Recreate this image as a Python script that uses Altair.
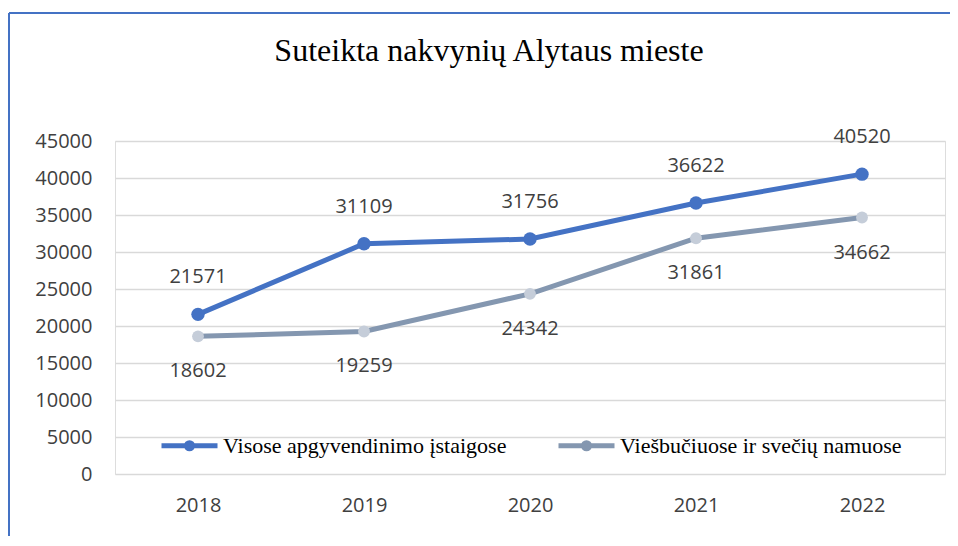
import altair as alt
import pandas as pd

TITLE = "Suteikta nakvynių Alytaus mieste"
years = ["2018", "2019", "2020", "2021", "2022"]
series_names = ["Visose apgyvendinimo įstaigose", "Viešbučiuose ir svečių namuose"]
visose = [21571, 31109, 31756, 36622, 40520]
viesbuciuose = [18602, 19259, 24342, 31861, 34662]
y_ticks = [0, 5000, 10000, 15000, 20000, 25000, 30000, 35000, 40000, 45000]

line_colors = ["#4472C4", "#8497B0"]
marker_colors = ["#4472C4", "#C5CDD9"]

rows = []
for name, vals in zip(series_names, [visose, viesbuciuose]):
    for yr, v in zip(years, vals):
        rows.append({"year": yr, "series": name, "value": v})
df = pd.DataFrame(rows)

x_enc = alt.X("year:N", sort=years,
              scale=alt.Scale(type="point", padding=0.5),
              axis=alt.Axis(title=None, labelAngle=0, domain=False, ticks=False, grid=False,
                            labelFont="Open Sans", labelFontSize=20, labelColor="#404040",
                            labelPadding=21))
y_enc = alt.Y("value:Q",
              scale=alt.Scale(domain=[0, 45000], nice=False),
              axis=alt.Axis(title=None, values=y_ticks, format="d", domain=False, ticks=False,
                            grid=True, gridColor="#D9D9D9", gridWidth=1.5,
                            labelFont="Open Sans", labelFontSize=20, labelColor="#404040",
                            labelPadding=23))

legend_path = ("M-1,0L1,0M-0.11,0A0.11,0.11 0 1,1 0.11,0A0.11,0.11 0 1,1 -0.11,0Z")

base = alt.Chart(df)

lines = base.mark_line(strokeWidth=5).encode(
    x=x_enc, y=y_enc,
    stroke=alt.Stroke("series:N", sort=series_names,
                      scale=alt.Scale(domain=series_names, range=line_colors),
                      legend=alt.Legend(title=None, orient="none", legendX=44, legendY=274,
                                        direction="horizontal", padding=0,
                                        symbolType=legend_path, symbolSize=3136,
                                        symbolStrokeWidth=5, labelOffset=3,
                                        columnPadding=41, labelLimit=0,
                                        labelFont="Liberation Serif", labelFontSize=22,
                                        labelColor="#000000")),
)

fill_enc = alt.Fill("series:N", sort=series_names,
                    scale=alt.Scale(domain=series_names, range=marker_colors),
                    legend=None)

points_top = base.transform_filter(alt.datum.series == series_names[0]).mark_point(
    filled=True, opacity=1, size=180).encode(x=x_enc, y=y_enc, fill=fill_enc)
points_bottom = base.transform_filter(alt.datum.series == series_names[1]).mark_point(
    filled=True, opacity=1, size=140).encode(x=x_enc, y=y_enc, fill=fill_enc)

labels_top = base.transform_filter(
    alt.datum.series == series_names[0]
).mark_text(font="Open Sans", fontSize=20, color="#404040", dy=-37, baseline="middle").encode(
    x=x_enc, y=y_enc, text=alt.Text("value:Q", format="d"))

labels_bottom = base.transform_filter(
    alt.datum.series == series_names[1]
).mark_text(font="Open Sans", fontSize=20, color="#404040", dy=35, baseline="middle").encode(
    x=x_enc, y=y_enc, text=alt.Text("value:Q", format="d"))

title_df = pd.DataFrame({"t": [TITLE]})
title = alt.Chart(title_df).mark_text(
    font="Liberation Serif", fontSize=32, color="#000000", align="center", baseline="alphabetic"
).encode(x=alt.value(374), y=alt.value(-80), text="t:N")

frame_df = pd.DataFrame({"k": [0]})
frame_top = alt.Chart(frame_df).mark_rule(color="#4472C4", strokeWidth=2).encode(
    x=alt.value(-106), x2=alt.value(845), y=alt.value(-128))
frame_left = alt.Chart(frame_df).mark_rule(color="#4472C4", strokeWidth=2).encode(
    x=alt.value(-106), y=alt.value(-128), y2=alt.value(420))

chart = alt.layer(frame_top, frame_left, title, lines, points_top, points_bottom,
                  labels_top, labels_bottom).properties(
    width=830, height=333,
    autosize=alt.AutoSizeParams(type="none"),
    padding={"left": 107, "top": 133, "right": 5, "bottom": 62},
).configure_view(stroke=None).configure(background="white")

chart.save("out.html", embed_options={"renderer": "svg", "actions": False})
